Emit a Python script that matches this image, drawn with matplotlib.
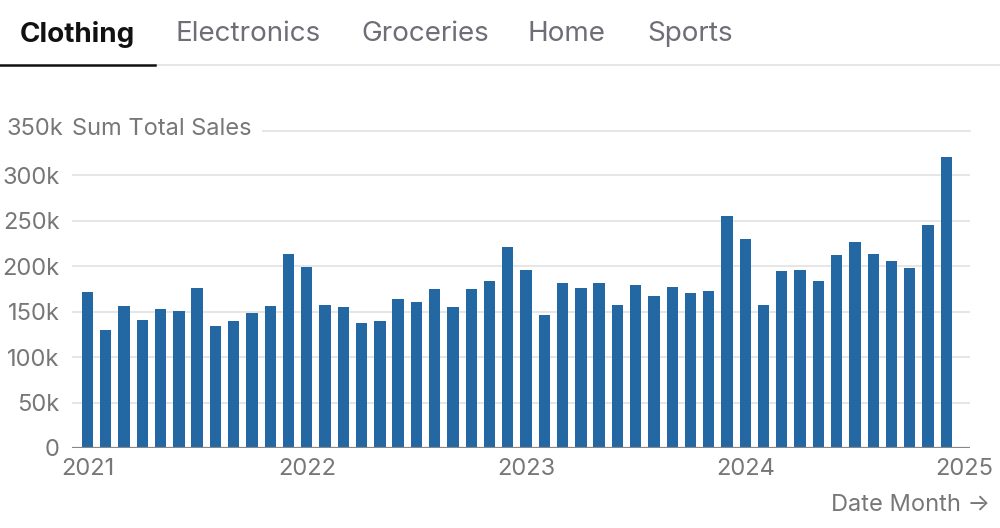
import matplotlib
matplotlib.use("Agg")
import matplotlib.pyplot as plt
from matplotlib.lines import Line2D

plt.rcParams['font.family'] = ['Inter', 'DejaVu Sans']

tabs = ["Clothing", "Electronics", "Groceries", "Home", "Sports"]
year_labels = ["2021", "2022", "2023", "2024", "2025"]
y_ticks = [0, 50000, 100000, 150000, 200000, 250000, 300000, 350000]
y_tick_labels = ["0", "50k", "100k", "150k", "200k", "250k", "300k", "350k"]
sales = [
    171800, 130000, 156400, 141000, 153400, 150900, 176600, 134700, 139900, 148300, 156000, 213300,
    199000, 157900, 154900, 138000, 140200, 164100, 160800, 175500, 155700, 175500, 183900, 221400,
    195700, 146500, 181300, 175800, 182100, 157500, 179500, 167000, 177300, 170700, 172500, 255100,
    230200, 157900, 194600, 196000, 183600, 212600, 226900, 213700, 205900, 198200, 245200, 320100,
]

W, H = 1000, 528
fig = plt.figure(figsize=(W / 100, H / 100), dpi=100)

def fx(px):
    return px / W

def fy(py):
    return 1 - py / H

FS = 17

# Tabs
tab_x = [20, 176, 361, 528, 647]
for i, (t, x) in enumerate(zip(tabs, tab_x)):
    fig.text(fx(x), fy(34), t, fontsize=20, ha='left', va='center',
             color='#111111' if i == 0 else '#6e6e78',
             fontweight='bold' if i == 0 else 'normal')
fig.add_artist(Line2D([fx(155), 1.0], [fy(65), fy(65)], color='#e2e2e2', lw=1.2))
fig.add_artist(Line2D([0, fx(155)], [fy(64.5), fy(64.5)], color='#111111', lw=1.8))

# Axes
left, right = 72, 970
top, bottom = 130, 448
ax = fig.add_axes([fx(left), fy(bottom), fx(right - left), fy(top) - fy(bottom)])
n = len(sales)
x = list(range(n))
ax.bar(x, sales, width=0.62, color='#2368a3', zorder=3)
ax.set_xlim(-0.85, 48.3)
ax.set_ylim(0, 350000)

for s in ax.spines.values():
    s.set_visible(False)
ax.tick_params(length=0)
ax.set_yticks(y_ticks[:-1])
ax.set_yticklabels(y_tick_labels[:-1], fontsize=FS, color='#777777')
ax.tick_params(axis='y', pad=9)
ax.set_xticks([0, 12, 24, 36, 48])
ax.set_xticklabels(year_labels, fontsize=FS, color='#777777')
ax.tick_params(axis='x', pad=7)

for v in y_ticks[1:-1]:
    ax.axhline(v, color='#e2e2e2', lw=1.2, zorder=1)
ax.axhline(0, color='#888888', lw=1.6, zorder=4)

# top label and its gridline
fig.text(fx(63), fy(129), y_tick_labels[-1], fontsize=FS, color='#777777', ha='right', va='center')
fig.text(fx(72), fy(129), "Sum Total Sales", fontsize=FS, color='#777777', ha='left', va='center')
fig.add_artist(Line2D([fx(263), fx(right)], [fy(130.5), fy(130.5)], color='#e2e2e2', lw=1.2))

fig.text(fx(990), fy(505), "Date Month \u2192", fontsize=FS, color='#777777', ha='right', va='center')

fig.savefig("out.png", dpi=100, facecolor='white')
